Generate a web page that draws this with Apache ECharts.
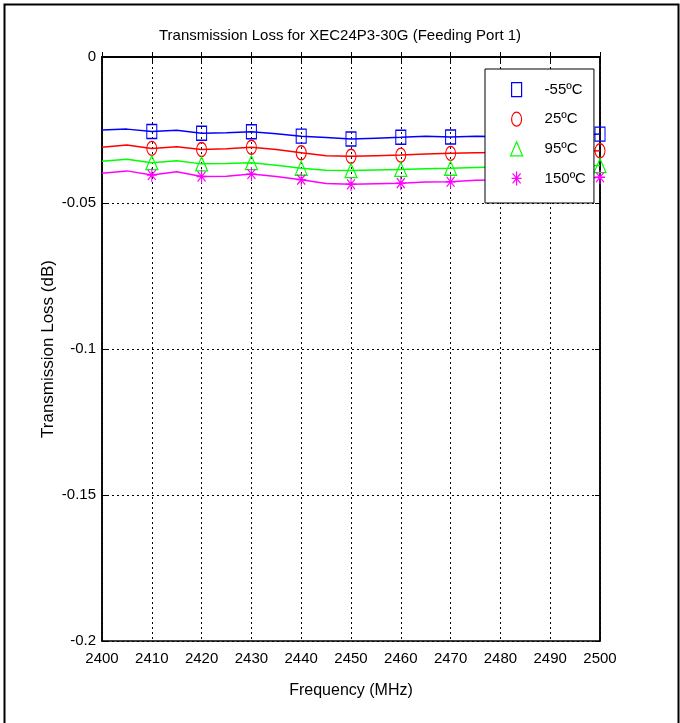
<!DOCTYPE html>
<html>
<head>
<meta charset="utf-8">
<script src="https://cdn.jsdelivr.net/npm/echarts@6/dist/echarts.min.js"></script>
<style>
html,body{margin:0;padding:0;background:#fff;}
#chart{width:680px;height:723px;}
</style>
</head>
<body>
<div id="chart"></div>
<script>
const freqs = [2400,2405,2410,2415,2420,2425,2430,2435,2440,2445,2450,2455,2460,2465,2470,2475,2480,2485,2490,2495,2500];
const lossM55 = [-0.0250,-0.0247,-0.0255,-0.0251,-0.0261,-0.0259,-0.0256,-0.0263,-0.0271,-0.0276,-0.0281,-0.0278,-0.0275,-0.0271,-0.0274,-0.0271,-0.0272,-0.0272,-0.0270,-0.0268,-0.0264];
const loss25 = [-0.0309,-0.0301,-0.0313,-0.0307,-0.0317,-0.0314,-0.0309,-0.0317,-0.0328,-0.0338,-0.0340,-0.0338,-0.0336,-0.0332,-0.0330,-0.0328,-0.0327,-0.0326,-0.0325,-0.0324,-0.0321];
const loss95 = [-0.0357,-0.0350,-0.0362,-0.0355,-0.0366,-0.0365,-0.0362,-0.0371,-0.0381,-0.0388,-0.0389,-0.0387,-0.0385,-0.0383,-0.0381,-0.0378,-0.0377,-0.0376,-0.0375,-0.0374,-0.0372];
const loss150 = [-0.0398,-0.0390,-0.0404,-0.0393,-0.0409,-0.0408,-0.0401,-0.0409,-0.0420,-0.0433,-0.0436,-0.0434,-0.0432,-0.0428,-0.0427,-0.0422,-0.0421,-0.0420,-0.0419,-0.0418,-0.0412];
const seriesNames = ['-55ºC','25ºC','95ºC','150ºC'];
const xTicks = [2400,2410,2420,2430,2440,2450,2460,2470,2480,2490,2500];
const yTicks = [-0.2,-0.15,-0.1,-0.05,0];

const NARROW = '"Liberation Sans Narrow","Arial Narrow","Liberation Sans",Arial,sans-serif';
const REG = '"Liberation Sans",Arial,sans-serif';

const colors = ['#0000ff','#ff0000','#00ff00','#ff00ff'];
const sqPath = 'path://M0,0L10,0L10,14L0,14Z';
const starPath = 'path://M5,0L5,14M0,7L10,7M1,2L9,12M9,2L1,12';
const symbols = [sqPath, 'circle', 'triangle', starPath];
const symSizes = [[10,14],[10,14],[12,14],[10,14]];
const legendIcons = [sqPath, 'path://M5,0A5,7,0,1,1,4.99,0Z', 'path://M6,0L12,14L0,14Z', starPath];
const allData = [lossM55, loss25, loss95, loss150];

function pairs(arr){ return freqs.map((f,i)=>[f, arr[i]]); }

const series = allData.map((arr, k) => ({
  name: seriesNames[k],
  type: 'line',
  data: pairs(arr),
  symbol: symbols[k],
  symbolKeepAspect: false,
  symbolSize: function(v, p){ return (p.dataIndex >= 2 && p.dataIndex % 2 === 0) ? symSizes[k] : 0; },
  showAllSymbol: true,
  clip: false,
  lineStyle: { color: colors[k], width: 1.5 },
  itemStyle: { color: 'rgba(0,0,0,0)', borderColor: colors[k], borderWidth: 1.2 },
  emphasis: { disabled: true },
  animation: false,
  z: 3
}));

const chart = echarts.init(document.getElementById('chart'), null, {renderer: 'canvas'});
chart.setOption({
  backgroundColor: '#fff',
  animation: false,
  title: {
    text: 'Transmission Loss for XEC24P3-30G (Feeding Port 1)',
    left: 'center', top: 23,
    textStyle: { fontFamily: NARROW, fontSize: 15, fontWeight: 'normal', color: '#000' }
  },
  graphic: [{
    type: 'rect', left: 2, top: 2, z: 100, silent: true,
    shape: { width: 674, height: 740 },
    style: { fill: 'none', stroke: '#000', lineWidth: 2 }
  }],
  legend: {
    orient: 'vertical',
    left: 485, top: 69,
    padding: [13, 8, 17, 25],
    itemGap: 14.4,
    itemWidth: 12, itemHeight: 14,
    backgroundColor: '#fff',
    borderColor: '#000', borderWidth: 1,
    z: 10,
    selectedMode: false,
    textStyle: { fontFamily: NARROW, fontSize: 15, color: '#000', padding: [0,0,0,17] },
    data: seriesNames.map((n, k) => ({
      name: n,
      icon: legendIcons[k],
      itemStyle: { color: 'rgba(0,0,0,0)', borderColor: colors[k], borderWidth: 1.2 }
    }))
  },
  grid: {
    left: 102, right: 80, top: 57, bottom: 82,
    show: true, borderColor: '#000', borderWidth: 1.5, backgroundColor: 'transparent'
  },
  xAxis: [{
    type: 'value', min: xTicks[0], max: xTicks[xTicks.length-1], interval: 10,
    name: 'Frequency (MHz)', nameLocation: 'middle', nameGap: 42,
    nameTextStyle: { fontFamily: NARROW, fontSize: 16, color: '#000' },
    axisLine: { show: true, lineStyle: { color: '#000', width: 1.5 } },
    axisTick: { show: true, inside: true, length: 5, lineStyle: { color: '#000' } },
    axisLabel: { fontFamily: NARROW, fontSize: 15, color: '#000', margin: 10, showMinLabel: true, showMaxLabel: true,
      formatter: v => String(v) },
    splitLine: { show: true, lineStyle: { color: '#000', type: [2,3], width: 1 } }
  }, {
    type: 'value', min: xTicks[0], max: xTicks[xTicks.length-1], interval: 10, position: 'top',
    axisLine: { show: true, lineStyle: { color: '#000', width: 1.5 } },
    axisTick: { show: true, inside: true, length: 5, lineStyle: { color: '#000' } },
    axisLabel: { show: false }, splitLine: { show: false }
  }],
  yAxis: [{
    type: 'value', min: yTicks[0], max: yTicks[yTicks.length-1], interval: 0.05,
    name: 'Transmission Loss (dB)', nameLocation: 'middle', nameGap: 45, nameMoveOverlap: false,
    nameTextStyle: { fontFamily: REG, fontSize: 17, color: '#000' },
    axisLine: { show: true, lineStyle: { color: '#000', width: 1.5 } },
    axisTick: { show: true, inside: true, length: 5, lineStyle: { color: '#000' } },
    axisLabel: { fontFamily: NARROW, fontSize: 15, color: '#000', margin: 6,
      formatter: v => String(+(+v).toFixed(2)) },
    splitLine: { show: true, lineStyle: { color: '#000', type: [2,3], width: 1 } }
  }, {
    type: 'value', min: yTicks[0], max: yTicks[yTicks.length-1], interval: 0.05, position: 'right',
    axisLine: { show: true, lineStyle: { color: '#000', width: 1.5 } },
    axisTick: { show: true, inside: true, length: 5, lineStyle: { color: '#000' } },
    axisLabel: { show: false }, splitLine: { show: false }
  }],
  series: series
});
</script>
</body>
</html>
